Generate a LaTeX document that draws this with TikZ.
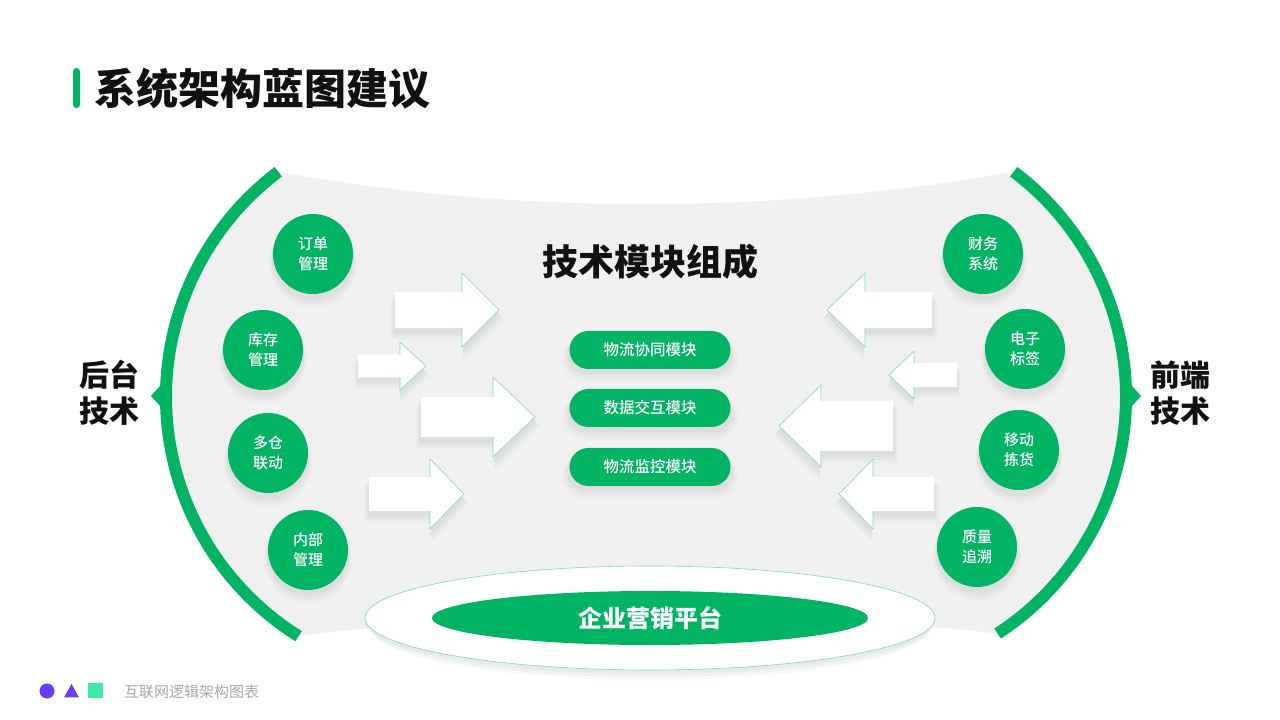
\documentclass[tikz,border=0pt]{standalone}
\usepackage{fontspec}
\setmainfont{Noto Sans CJK SC}
\newfontfamily\heavyfont{Noto Sans CJK SC Black}
\newfontfamily\midfont{Noto Sans CJK SC Medium}
\usetikzlibrary{shadows,shapes.geometric}

\definecolor{mainGreen}{HTML}{00B464}
\definecolor{panelGrey}{HTML}{F0F0F0}
\definecolor{edgeGreen}{HTML}{86D6AE}
\definecolor{shadowTone}{HTML}{2F5A45}
\definecolor{dotPurple}{HTML}{6B3DF2}
\definecolor{dotMint}{HTML}{3EEBA4}
\definecolor{noteGrey}{HTML}{A8A8A8}
\definecolor{inkBlack}{HTML}{111111}

\def\BandW{12}
\def\ArcR{282}

\tikzset{
  softshadow/.style={
    general shadow={shadow xshift=0pt,shadow yshift=-9pt,shadow scale=1.10,fill=shadowTone,opacity=0.025},
    general shadow={shadow xshift=0pt,shadow yshift=-7pt,shadow scale=1.06,fill=shadowTone,opacity=0.035},
    general shadow={shadow xshift=0pt,shadow yshift=-5pt,shadow scale=1.03,fill=shadowTone,opacity=0.045}},
  ringshadow/.style={
    general shadow={shadow xshift=0pt,shadow yshift=-12pt,shadow scale=0.97,fill=shadowTone,opacity=0.03},
    general shadow={shadow xshift=0pt,shadow yshift=-8pt,shadow scale=0.985,fill=shadowTone,opacity=0.04},
    general shadow={shadow xshift=0pt,shadow yshift=-4pt,fill=shadowTone,opacity=0.05}},
  topic/.style={circle,fill=mainGreen,minimum size=80pt,inner sep=0pt,text=white,align=center,
    font=\midfont\fontsize{15}{20}\selectfont,softshadow},
  modulepill/.style={rounded corners=19pt,fill=mainGreen,minimum width=161pt,minimum height=38pt,
    inner sep=0pt,text=white,font=\midfont\fontsize{15.5}{18}\selectfont,softshadow},
  sidelabel/.style={align=center,text=inkBlack,font=\heavyfont\fontsize{30}{36}\selectfont},
  headline/.style={draw=edgeGreen,line width=0.6pt,line join=miter}
}

\begin{document}
\begin{tikzpicture}[x=1pt,y=1pt]

\useasboundingbox (0,0) rectangle (1280,720);
\fill[white] (0,0) rectangle (1280,720);

% =====================================================
% TITLE
% =====================================================
\fill[mainGreen,rounded corners=3.5pt] (73,612) rectangle (80,652);
\node[anchor=west,inner sep=0pt,text=inkBlack,font=\heavyfont\fontsize{42}{48}\selectfont] (title) at (94,631) {系统架构蓝图建议};

% =====================================================
% GREY PANEL BETWEEN THE TWO ARCS
% =====================================================
\coordinate (lc) at (448,323);
\coordinate (rc) at (844,323);
\coordinate (lt) at ([shift={(127:\ArcR)}]lc);
\coordinate (lb) at ([shift={(238:\ArcR)}]lc);
\coordinate (rt) at ([shift={(53:\ArcR)}]rc);
\coordinate (rb) at ([shift={(-57:\ArcR)}]rc);

\fill[panelGrey] (lt) .. controls (520,505) and (770,505) .. (rt)
  arc[start angle=53,end angle=-57,radius=\ArcR]
  .. controls (770,112) and (520,112) .. (lb)
  arc[start angle=238,end angle=127,radius=\ArcR] -- cycle;

% Green arcs with pointers
\draw[mainGreen,line width=\BandW pt] (lt) arc[start angle=127,end angle=238,radius=\ArcR];
\draw[mainGreen,line width=\BandW pt] (rt) arc[start angle=53,end angle=-57,radius=\ArcR];
\fill[mainGreen] (170,345) -- (151,324) -- (170,303) -- cycle;
\fill[mainGreen] (1122,345) -- (1141,324) -- (1122,303) -- cycle;

\node[sidelabel] (backend) at (109,327) {后台\\技术};
\node[sidelabel] (frontend) at (1180,327) {前端\\技术};

% =====================================================
% BLOCK ARROWS (tail / head base / tip / y / body half / head half)
% =====================================================
\foreach \l/\b/\t/\y/\bh/\hh in {395/462/499/410/18/37, 358/400/426/354/11.5/24,
    421/493/535/303/20/40, 369/430/464/226/17/35,
    932/865/827/410/18/37, 957/914/889/345/12/24,
    893/821/779/294/25/41, 934/873/839/226/17/35} {
  \fill[white,softshadow] (\l,\y-\bh) -- (\b,\y-\bh) -- (\b,\y-\hh) -- (\t,\y)
    -- (\b,\y+\hh) -- (\b,\y+\bh) -- (\l,\y+\bh) -- cycle;
  \draw[headline] (\b,\y+\bh) -- (\b,\y+\hh) -- (\t,\y) -- (\b,\y-\hh) -- (\b,\y-\bh);
}

% =====================================================
% BACKEND / FRONTEND TOPICS
% =====================================================
\node[topic] (order) at (313,466) {订单\\管理};
\node[topic] (stock) at (263,370) {库存\\管理};
\node[topic] (multi) at (268,267) {多仓\\联动};
\node[topic] (inner) at (308,170) {内部\\管理};

\node[topic] (finance) at (983,466) {财务\\系统};
\node[topic] (etag) at (1025,371) {电子\\标签};
\node[topic] (picking) at (1019,270) {移动\\拣货};
\node[topic] (quality) at (977,173) {质量\\追溯};

% =====================================================
% TECHNICAL MODULES
% =====================================================
\node[text=inkBlack,font=\heavyfont\fontsize{36}{40}\selectfont] (modules) at (650,458) {技术模块组成};
\node[modulepill] (cowork) at (650,370) {物流协同模块};
\node[modulepill] (exchange) at (650,312) {数据交互模块};
\node[modulepill] (monitor) at (650,253) {物流监控模块};

% =====================================================
% PLATFORM
% =====================================================
\node[ellipse,fill=white,draw=edgeGreen,line width=0.6pt,minimum width=570pt,minimum height=104pt,
  ringshadow] (ring) at (650,102) {};
\node[ellipse,fill=mainGreen,minimum width=436pt,minimum height=54pt,inner sep=0pt,text=white,
  font=\heavyfont\fontsize{24}{28}\selectfont] (platform) at (650,102) {企业营销平台};

% =====================================================
% FOOTER
% =====================================================
\fill[dotPurple] (47,29) circle (7.5);
\fill[dotPurple] (64,22.5) -- (79,22.5) -- (71.5,36) -- cycle;
\fill[dotMint] (88,22) rectangle (103,37);
\node[anchor=west,inner sep=0pt,text=noteGrey,font=\fontsize{15}{18}\selectfont] (footer) at (124,28) {互联网逻辑架构图表};

\end{tikzpicture}
\end{document}
